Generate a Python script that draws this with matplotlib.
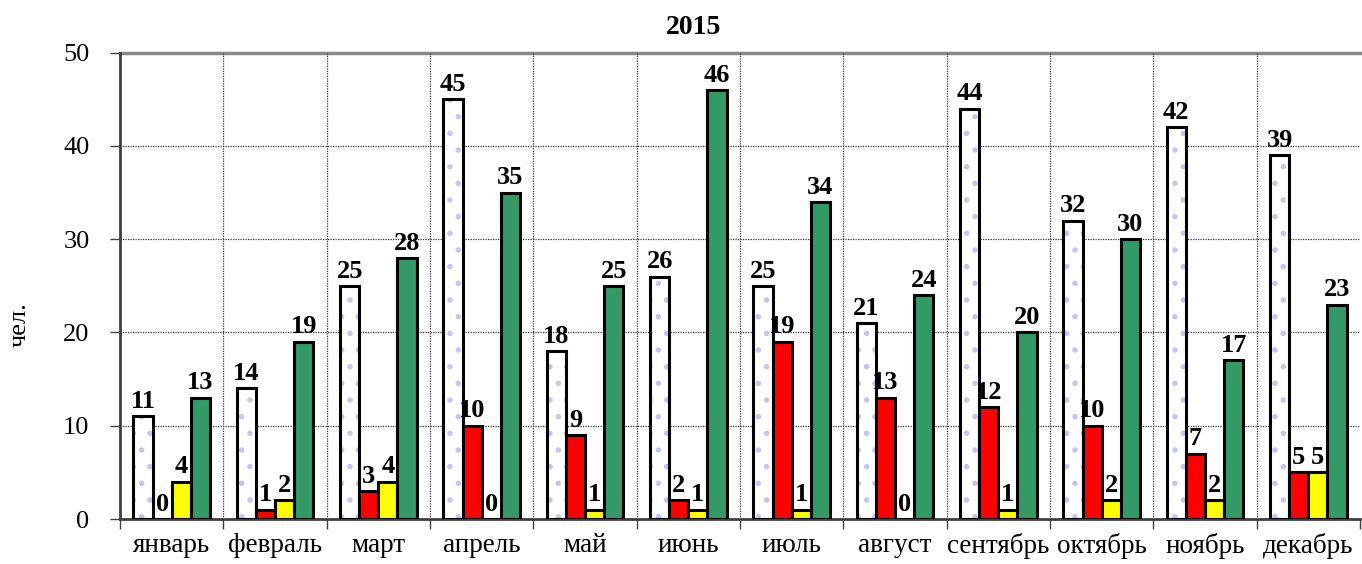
import matplotlib
matplotlib.use("Agg")
import matplotlib.pyplot as plt
import numpy as np

months = ["январь", "февраль", "март", "апрель", "май", "июнь",
          "июль", "август", "сентябрь", "октябрь", "ноябрь", "декабрь"]
series_white = [11, 14, 25, 45, 18, 26, 25, 21, 44, 32, 42, 39]
series_red = [0, 1, 3, 10, 9, 2, 19, 13, 12, 10, 7, 5]
series_yellow = [4, 2, 4, 0, 1, 1, 1, 0, 1, 2, 2, 5]
series_green = [13, 19, 28, 35, 25, 46, 34, 24, 20, 30, 17, 23]
title = "2015"
ylabel = "чел."
yticks = [0, 10, 20, 30, 40, 50]

plt.rcParams['font.family'] = ['Liberation Serif', 'DejaVu Serif']
plt.rcParams['hatch.linewidth'] = 1.5

fig = plt.figure(figsize=(13.62, 5.64), dpi=100)
ax = fig.add_axes([120/1362, 45/564, 1240/1362, (519-52.7)/564])

x = np.arange(len(months))
w = 0.185
offsets = [-1.5*w, -0.5*w, 0.5*w, 1.5*w]

# white dotted bars: hatch layer then outline
ax.bar(x + offsets[0], series_white, w, color='white', edgecolor='#c4c4f8',
       linewidth=0, hatch='.', zorder=2)
b0 = ax.bar(x + offsets[0], series_white, w, fill=False, edgecolor='black',
            linewidth=2.2, zorder=3)
b1 = ax.bar(x + offsets[1], series_red, w, color='#ff0000', edgecolor='black',
            linewidth=2.2, zorder=3)
b2 = ax.bar(x + offsets[2], series_yellow, w, color='#ffff00', edgecolor='black',
            linewidth=2.2, zorder=3)
b3 = ax.bar(x + offsets[3], series_green, w, color='#339966', edgecolor='black',
            linewidth=2.2, zorder=3)

for bars, vals in [(b0, series_white), (b1, series_red), (b2, series_yellow), (b3, series_green)]:
    for rect, v in zip(bars, vals):
        ax.annotate(str(v), (rect.get_x() + rect.get_width()/2, v),
                    xytext=(0, 6), textcoords='offset points',
                    ha='center', va='baseline', fontsize=19,
                    fontweight='bold', zorder=5)

ax.set_xlim(-0.5, len(months) - 0.5)
ax.set_ylim(0, 50)
ax.set_yticks(yticks)
ax.set_xticks(x)
ax.set_xticklabels(months)
ax.set_xticks(np.arange(len(months) + 1) - 0.5, minor=True)
ax.tick_params(axis='x', which='major', length=0, labelsize=19.5, pad=10)
ax.tick_params(axis='x', which='minor', length=7, width=1, color='#404040')
ax.tick_params(axis='y', length=7, width=1, color='#404040', labelsize=19, pad=15)

for yv in yticks[1:-1]:
    ax.axhline(yv, color='#333333', linestyle=(0, (1, 1)), linewidth=0.9, zorder=1)
ax.axhline(50, color='#888888', linewidth=2.5, zorder=1, clip_on=False)
for xv in np.arange(1, len(months)) - 0.5:
    ax.axvline(xv, color='#333333', linestyle=(0, (1, 1)), linewidth=0.9, zorder=1)

ax.spines['top'].set_visible(False)
ax.spines['right'].set_visible(False)
ax.spines['left'].set_color('#404040')
ax.spines['left'].set_linewidth(2)
ax.spines['bottom'].set_color('#404040')
ax.spines['bottom'].set_linewidth(2)

fig.text(694/1362, 1 - 28/564, title, ha='center', va='center',
         fontsize=20, fontweight='bold')
fig.text(20/1362, 1 - 325/564, ylabel, ha='center', va='center',
         rotation=90, fontsize=19)

fig.savefig("out.png", dpi=100)
